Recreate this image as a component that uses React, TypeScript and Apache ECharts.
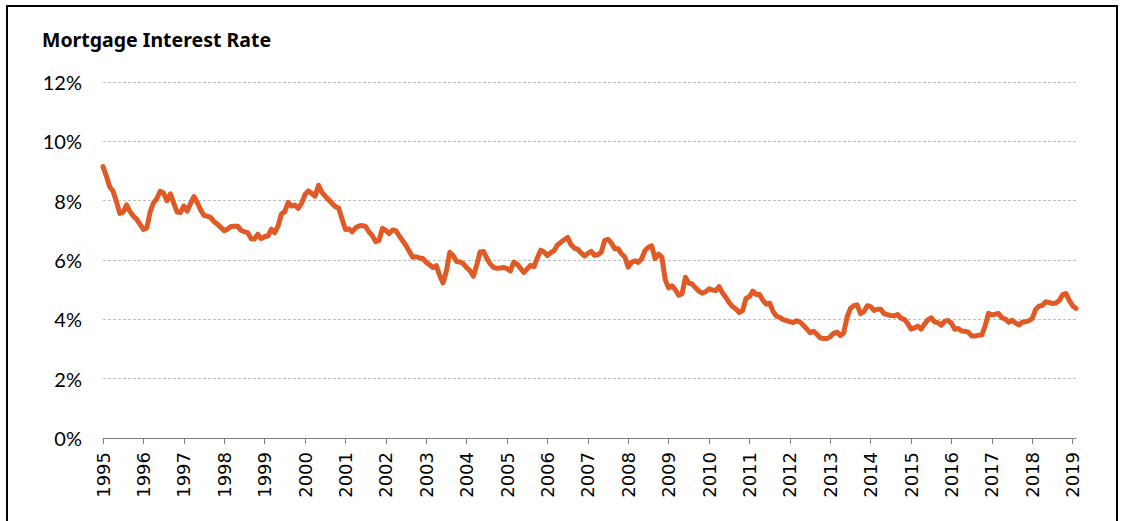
import React, { useEffect, useRef } from "react";
import * as echarts from "echarts";

const years = [1995, 1996, 1997, 1998, 1999, 2000, 2001, 2002, 2003, 2004, 2005, 2006, 2007, 2008, 2009, 2010, 2011, 2012, 2013, 2014, 2015, 2016, 2017, 2018, 2019];

const rates1995to2002 = [
  9.15, 8.83, 8.46, 8.32, 7.96, 7.57, 7.61, 7.86, 7.64, 7.48, 7.38, 7.20,
  7.03, 7.08, 7.62, 7.93, 8.07, 8.32, 8.25, 8.00, 8.23, 7.92, 7.62, 7.60,
  7.82, 7.65, 7.90, 8.14, 7.94, 7.69, 7.50, 7.48, 7.43, 7.29, 7.21, 7.10,
  6.99, 7.04, 7.13, 7.14, 7.14, 7.00, 6.95, 6.92, 6.72, 6.71, 6.87, 6.72,
  6.79, 6.81, 7.04, 6.92, 7.15, 7.55, 7.63, 7.94, 7.82, 7.85, 7.74, 7.91,
  8.21, 8.33, 8.24, 8.15, 8.52, 8.29, 8.15, 8.03, 7.91, 7.80, 7.75, 7.38,
  7.03, 7.05, 6.95, 7.08, 7.15, 7.16, 7.13, 6.95, 6.82, 6.62, 6.66, 7.07,
  7.00, 6.89, 7.01, 6.99, 6.81, 6.65, 6.49, 6.29, 6.09, 6.11, 6.07, 6.05,
];
const rates2003to2010 = [
  5.92, 5.84, 5.75, 5.81, 5.48, 5.23, 5.63, 6.26, 6.15, 5.95, 5.93, 5.88,
  5.74, 5.64, 5.45, 5.83, 6.27, 6.29, 6.06, 5.87, 5.75, 5.72, 5.73, 5.75,
  5.71, 5.63, 5.93, 5.86, 5.72, 5.58, 5.70, 5.82, 5.77, 6.07, 6.33, 6.27,
  6.15, 6.25, 6.32, 6.51, 6.60, 6.68, 6.76, 6.52, 6.40, 6.36, 6.24, 6.14,
  6.22, 6.29, 6.16, 6.18, 6.26, 6.66, 6.70, 6.57, 6.38, 6.38, 6.21, 6.10,
  5.76, 5.92, 5.97, 5.92, 6.04, 6.32, 6.43, 6.48, 6.04, 6.20, 6.09, 5.33,
  5.06, 5.13, 5.00, 4.81, 4.86, 5.42, 5.22, 5.19, 5.06, 4.95, 4.88, 4.93,
  5.03, 4.99, 4.97, 5.10, 4.89, 4.74, 4.56, 4.43, 4.35, 4.23, 4.30, 4.71,
];
const rates2011to2019 = [
  4.76, 4.95, 4.84, 4.84, 4.64, 4.51, 4.55, 4.27, 4.11, 4.07, 3.99, 3.96,
  3.92, 3.89, 3.95, 3.91, 3.80, 3.68, 3.55, 3.60, 3.50, 3.38, 3.35, 3.35,
  3.41, 3.53, 3.57, 3.45, 3.54, 4.07, 4.37, 4.46, 4.49, 4.19, 4.26, 4.46,
  4.43, 4.30, 4.34, 4.34, 4.19, 4.16, 4.13, 4.12, 4.16, 4.04, 4.00, 3.86,
  3.67, 3.71, 3.77, 3.67, 3.84, 3.98, 4.05, 3.91, 3.89, 3.80, 3.94, 3.96,
  3.87, 3.66, 3.69, 3.61, 3.60, 3.57, 3.44, 3.44, 3.46, 3.47, 3.77, 4.20,
  4.15, 4.17, 4.20, 4.05, 4.01, 3.90, 3.97, 3.88, 3.81, 3.90, 3.92, 3.95,
  4.03, 4.33, 4.44, 4.47, 4.59, 4.57, 4.53, 4.55, 4.63, 4.83, 4.87, 4.64,
  4.46, 4.37,
];

const rates = [...rates1995to2002, ...rates2003to2010, ...rates2011to2019];
const months = rates.map((_, i) => `${years[Math.floor(i / 12)]}-${String((i % 12) + 1).padStart(2, "0")}`);

const FONT = "Lato, 'Open Sans', sans-serif";

export default function App() {
  const ref = useRef<HTMLDivElement>(null);
  useEffect(() => {
    if (!ref.current) return;
    const chart = echarts.init(ref.current, null, { renderer: "svg" });
    chart.setOption({
      animation: false,
      backgroundColor: "#ffffff",
      grid: { left: 103, right: 45, top: 82, bottom: 83, containLabel: false },
      graphic: [
        {
          type: "rect",
          shape: { x: 7, y: 6, width: 1110, height: 530 },
          style: { fill: "none", stroke: "#000000", lineWidth: 2 },
          silent: true,
        },
        {
          type: "text",
          left: 42,
          top: 29,
          style: { text: "Mortgage Interest Rate", font: `bold 19.5px 'Noto Sans', sans-serif`, fill: "#000000" },
        },
      ],
      xAxis: {
        type: "category",
        data: months,
        boundaryGap: false,
        axisLine: { lineStyle: { color: "#7f7f7f", width: 1 } },
        axisTick: {
          show: true,
          length: 6,
          interval: (i: number) => i % 12 === 0,
          lineStyle: { color: "#7f7f7f" },
        },
        axisLabel: {
          rotate: 90,
          interval: (i: number) => i % 12 === 0,
          formatter: (v: string) => v.slice(0, 4),
          color: "#000000",
          fontFamily: "'DejaVu Sans', sans-serif",
          fontSize: 18,
          margin: 14,
        },
        splitLine: { show: false },
      },
      yAxis: {
        type: "value",
        min: 0,
        max: 12,
        interval: 2,
        axisLine: { show: false },
        axisTick: { show: false },
        axisLabel: {
          formatter: (v: number) => `${v}%`,
          color: "#000000",
          fontFamily: FONT,
          fontSize: 20,
          margin: 21,
        },
        splitLine: { lineStyle: { color: "#bfbfbf", type: [3, 2], width: 1 } },
      },
      series: [
        {
          type: "line",
          data: rates,
          showSymbol: false,
          symbol: "none",
          lineStyle: { color: "#E15A25", width: 5, join: "round", cap: "round" },
        },
      ],
    });
    return () => chart.dispose();
  }, []);
  return <div ref={ref} style={{ position: "fixed", left: 0, top: 0, width: 1121, height: 521 }} />;
}
